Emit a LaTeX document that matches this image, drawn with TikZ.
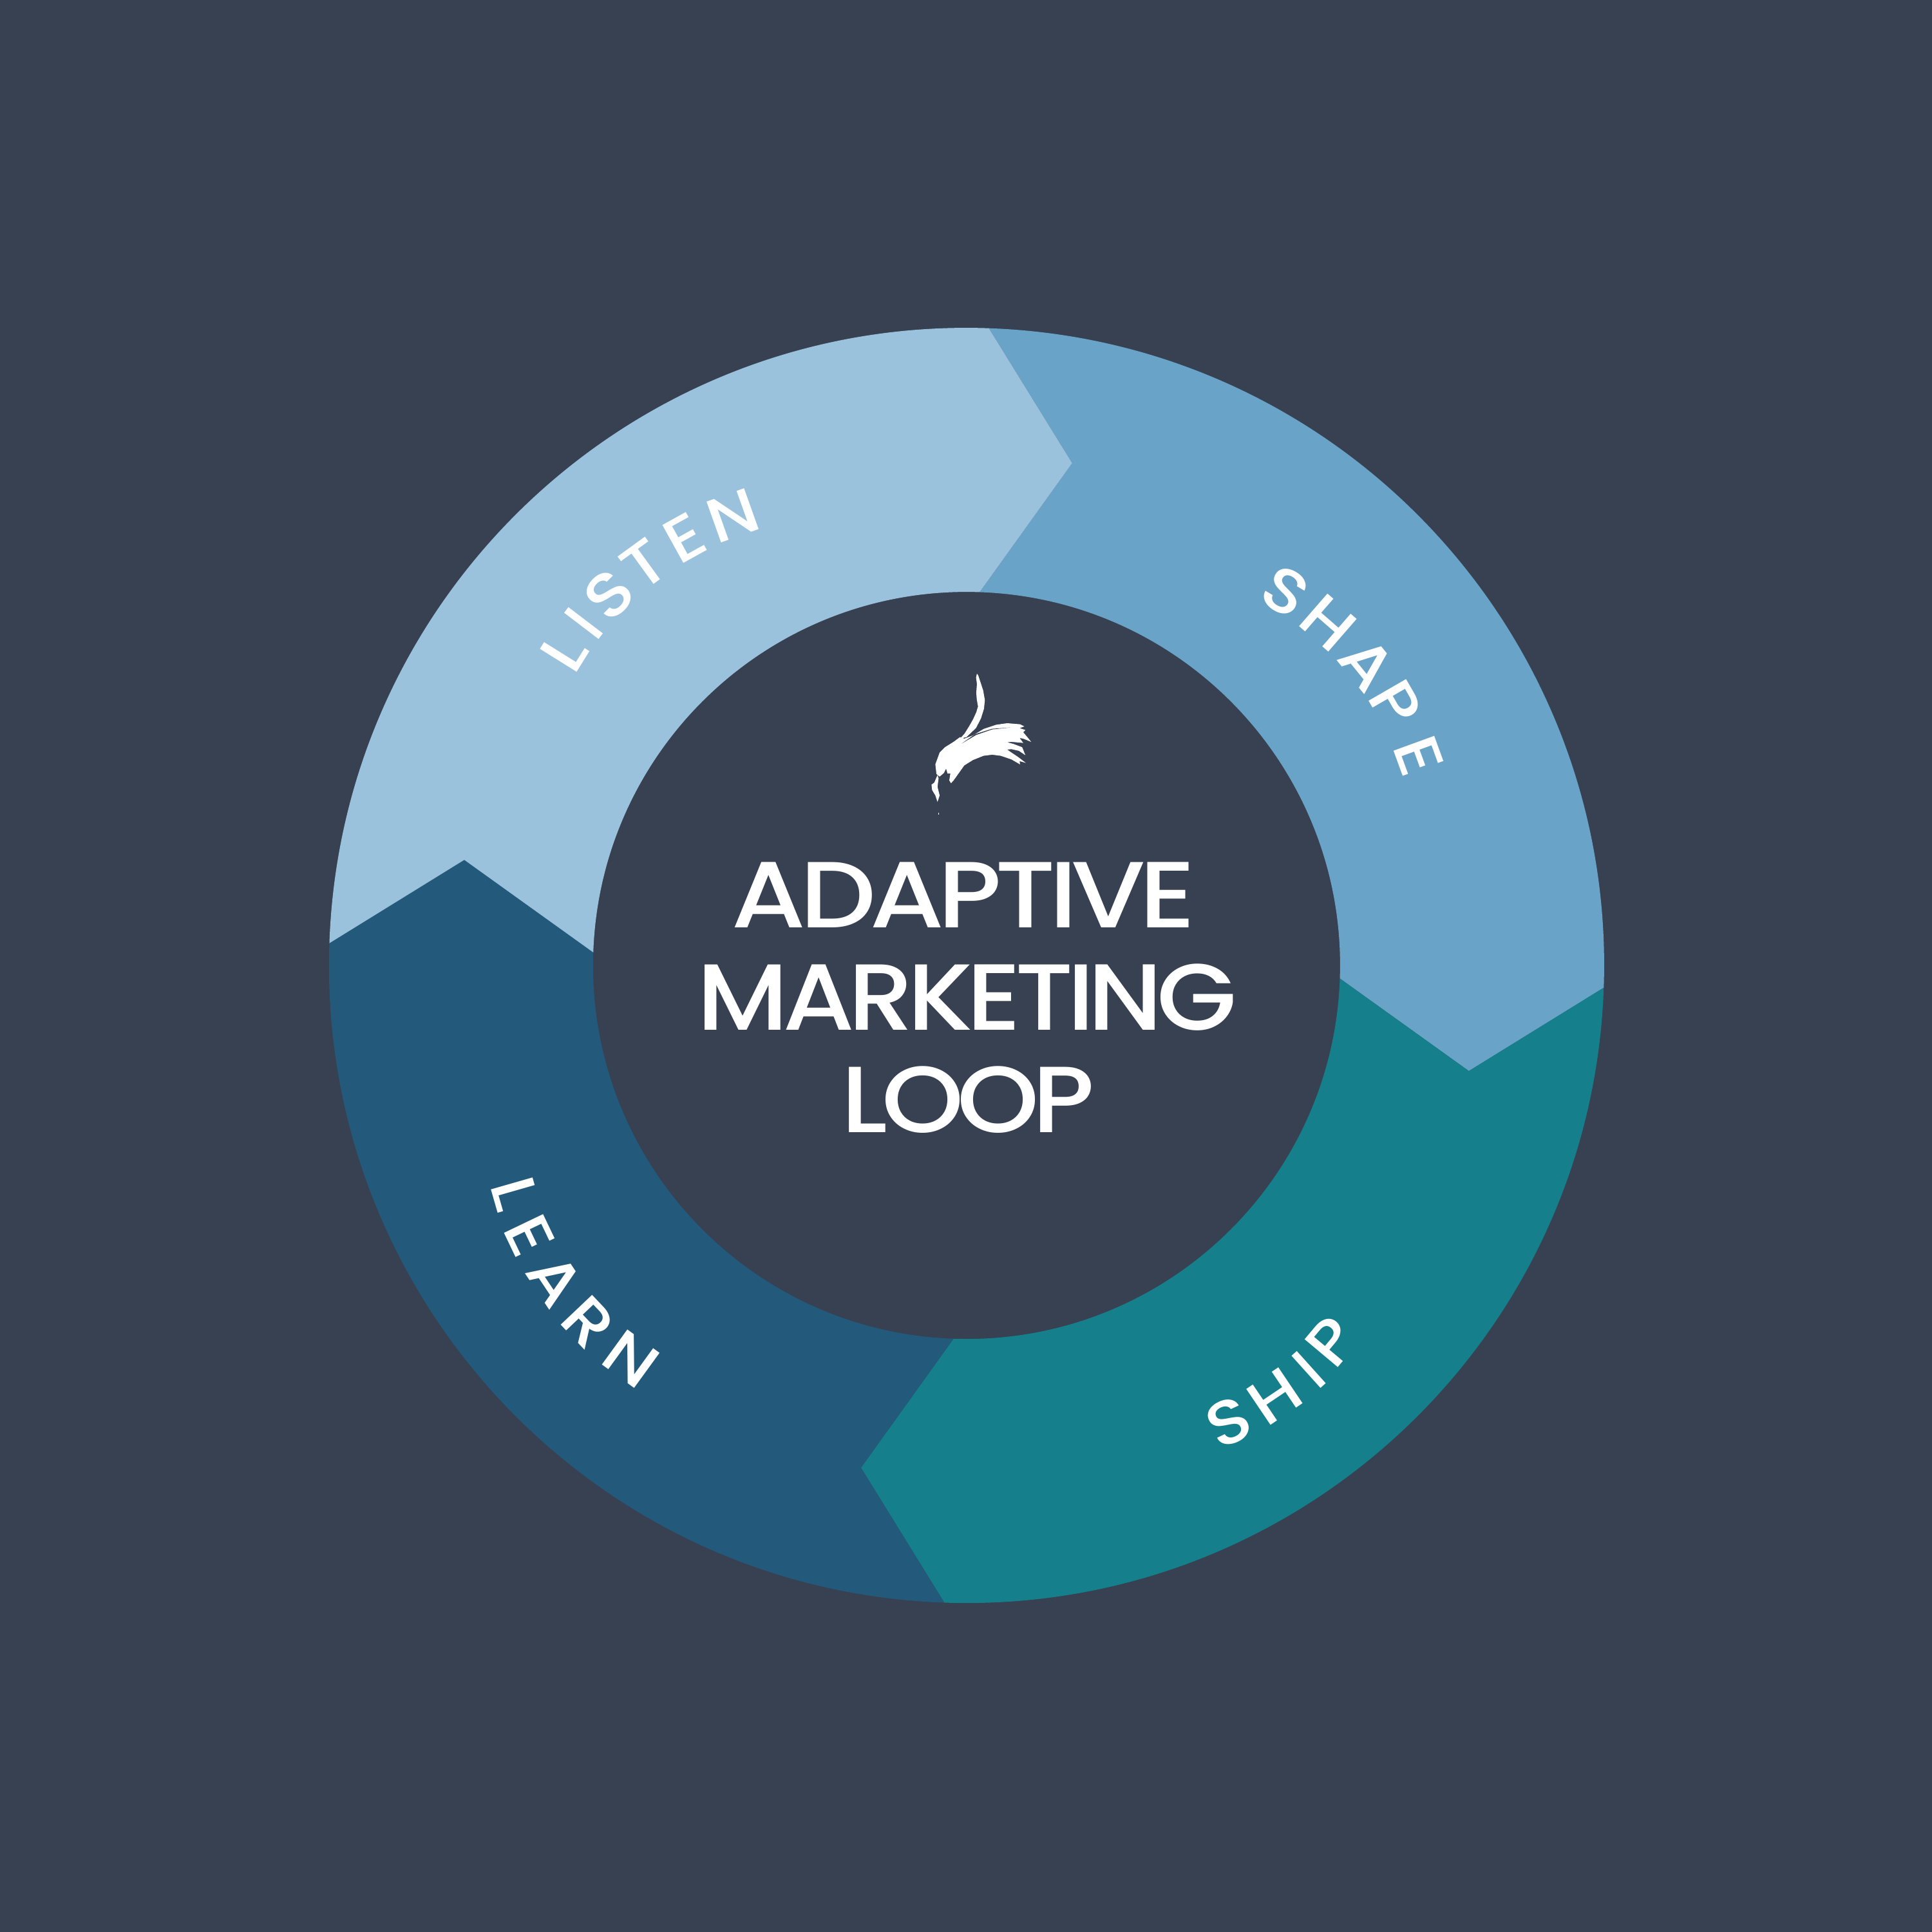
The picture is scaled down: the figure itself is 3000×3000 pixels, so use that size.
\documentclass[tikz,border=0pt]{standalone}
\usepackage{fontspec}
\usepackage{graphicx}
\newfontfamily\ttl{Poppins}[UprightFont=* Medium,LetterSpace=-6]
\newfontfamily\lbl{Poppins}[UprightFont=* Medium]
\definecolor{bgc}{HTML}{374151}
\definecolor{listenc}{HTML}{9BC2DD}
\definecolor{shapec}{HTML}{6AA3C8}
\definecolor{shipc}{HTML}{157F8B}
\definecolor{learnc}{HTML}{235A7C}
\newcommand{\wl}[1]{\scalebox{1.12}[1]{#1}}
\tikzset{
  ltr/.style={text=white,inner sep=0pt,outer sep=0pt,anchor=center,font=\lbl\fontsize{27.5}{27.5}\selectfont},
  ttlline/.style={text=white,inner sep=0pt,outer sep=0pt,anchor=base,font=\ttl\fontsize{41.5}{41.5}\selectfont},
  seg/.pic={
    \fill[pic actions] (88:990) arc[start angle=88,end angle=-2,radius=990]
      -- (-11.87:797) -- (-2:580) arc[start angle=-2,end angle=88,radius=580]
      -- (78.13:797) -- cycle;
  }
}
\begin{document}
\begin{tikzpicture}[x=0.01cm,y=0.01cm]
\useasboundingbox (0,0) rectangle (3000,3000);
\fill[bgc] (0,0) rectangle (3000,3000);
\begin{scope}[shift={(15cm,15cm)}]
\pic[fill=shapec] at (0,0) {seg};
\pic[fill=shipc,rotate=-90] at (0,0) {seg};
\pic[fill=learnc,rotate=-180] at (0,0) {seg};
\pic[fill=listenc,rotate=-270] at (0,0) {seg};
\end{scope}
% LISTEN
\node[ltr,rotate=58] (l1) at (876,1988) {\wl{L}};
\node[ltr,rotate=52.7] (l2) at (906,2032) {I};
\node[ltr,rotate=45] (l3) at (946,2076) {\wl{S}};
\node[ltr,rotate=36] (l4) at (1000,2124) {\wl{T}};
\node[ltr,rotate=29] (l5) at (1063,2165) {\wl{E}};
\node[ltr,rotate=19.6] (l6) at (1138,2199) {\wl{N}};
% SHAPE
\node[ltr,rotate=-31] (s1) at (1996,2082) {\wl{S}};
\node[ltr,rotate=-41] (s2) at (2062,2033) {\wl{H}};
\node[ltr,rotate=-51] (s3) at (2123,1969) {\wl{A}};
\node[ltr,rotate=-60] (s4) at (2167,1907) {\wl{P}};
\node[ltr,rotate=-70] (s5) at (2203,1826) {\wl{E}};
% SHIP
\node[ltr,rotate=25] (h1) at (1908,792) {\wl{S}};
\node[ltr,rotate=34] (h2) at (1979,832) {\wl{H}};
\node[ltr,rotate=42] (h3) at (2032,873) {I};
\node[ltr,rotate=50] (h4) at (2067,917) {\wl{P}};
% LEARN
\node[ltr,rotate=-74] (n1) at (799,1147) {\wl{L}};
\node[ltr,rotate=-64.4] (n2) at (822,1081) {\wl{E}};
\node[ltr,rotate=-56.3] (n3) at (862,1013) {\wl{A}};
\node[ltr,rotate=-46.5] (n4) at (913,947) {\wl{R}};
\node[ltr,rotate=-36] (n5) at (980,890) {\wl{N}};
% title
\node[ttlline] (t1) at (1496,1559) {\resizebox{7.20cm}{\height}{ADAPTIVE}};
\node[ttlline] (t2) at (1501.5,1400) {\resizebox{8.37cm}{\height}{MARKETING}};
\node[ttlline] (t3) at (1503.5,1241) {\resizebox{3.93cm}{\height}{LOOP}};
% brush mark
\begin{scope}[shift={(14cm,19.8cm)},x=0.003333cm,y=-0.003333cm]
\fill[white] (349,82) -- (345,100) -- (349,130) -- (346,170) -- (348,200) -- (354,235) -- (346,262) -- (331,295) -- (314,325) -- (291,362) -- (270,385) -- (300,378) -- (345,335) -- (368,290) -- (382,245) -- (386,205) -- (378,160) -- (365,120) -- (355,90) -- cycle;
\fill[white] (155,505) -- (175,450) -- (200,425) -- (240,400) -- (270,378) -- (290,385) -- (330,370) -- (380,340) -- (440,320) -- (490,313) -- (550,318) -- (570,328) -- (548,336) -- (575,345) -- (565,355) -- (590,385) -- (602,400) -- (565,385) -- (548,382) -- (565,405) -- (510,400) -- (490,402) -- (520,410) -- (560,425) -- (575,462) -- (545,442) -- (510,434) -- (490,436) -- (510,450) -- (540,470) -- (577,498) -- (548,490) -- (550,505) -- (510,482) -- (460,465) -- (420,460) -- (380,465) -- (330,485) -- (290,510) -- (265,545) -- (240,580) -- (228,593) -- (220,580) -- (225,548) -- (212,548) -- (205,525) -- (195,545) -- (175,562) -- (160,550) -- cycle;
\fill[white] (165,555) -- (150,590) -- (137,600) -- (140,625) -- (155,650) -- (165,680) -- (175,650) -- (165,610) -- (170,570) -- cycle;
\fill[bgc] (278,408) -- (340,364) -- (420,339) -- (505,333) -- (420,342) -- (345,368) -- cycle;
\fill[white] (168,732) rectangle (171,740);
\end{scope}
\end{tikzpicture}
\end{document}
